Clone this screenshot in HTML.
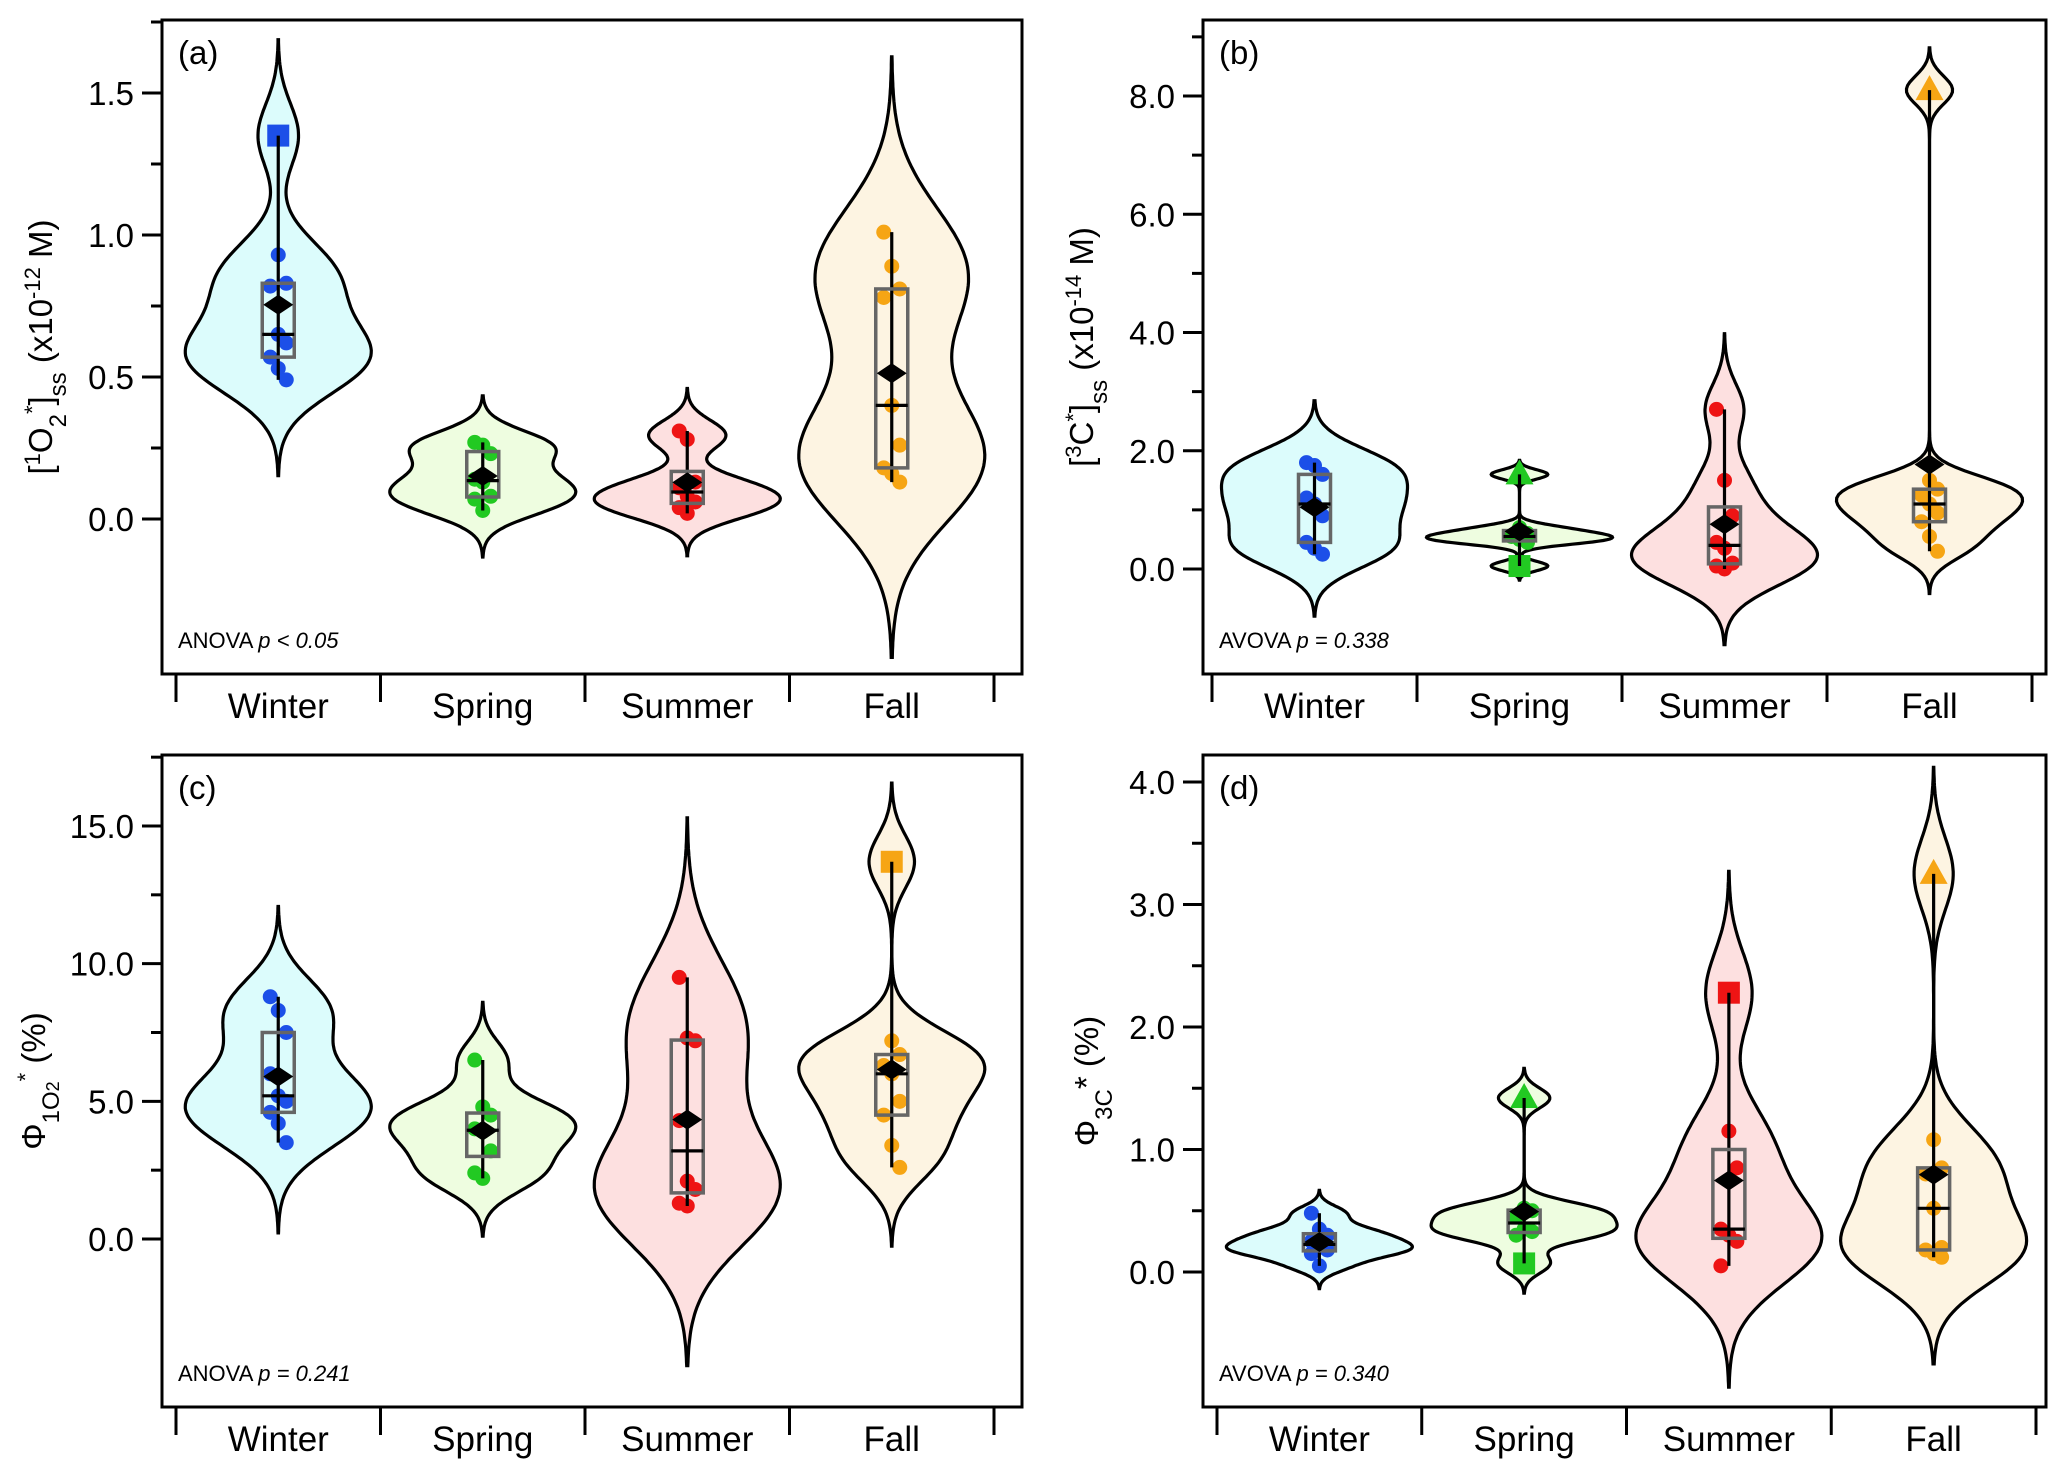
<!DOCTYPE html>
<html><head><meta charset="utf-8"><style>
html,body{margin:0;padding:0;background:#fff}
svg{display:block;font-family:"Liberation Sans",sans-serif}
</style></head><body>
<svg id="fig" width="2067" height="1479" viewBox="0 0 2067 1479" xmlns="http://www.w3.org/2000/svg"></svg>
<script>
const categories = ['Winter','Spring','Summer','Fall'];
// panel a: [1O2*]ss
const a_winter = [1.35,0.93,0.83,0.82,0.65,0.62,0.57,0.53,0.49];
const a_spring = [0.27,0.26,0.23,0.14,0.13,0.08,0.07,0.03];
const a_summer = [0.31,0.28,0.13,0.11,0.08,0.06,0.04,0.02];
const a_fall   = [1.01,0.89,0.81,0.78,0.40,0.26,0.18,0.16,0.13];
const a_maxMark = ['s','o','o','o'];
const a_minMark = ['o','o','o','o'];
const a_ticks = [0.0,0.5,1.0,1.5];
// panel b: [3C*]ss
const b_winter = [1.8,1.75,1.6,1.2,1.1,0.9,0.45,0.35,0.25];
const b_spring = [1.6,0.7,0.6,0.55,0.5,0.45,0.05];
const b_summer = [2.7,1.5,0.9,0.45,0.35,0.1,0.05,0.0];
const b_fall   = [8.1,1.5,1.35,1.25,1.1,0.95,0.8,0.55,0.3];
const b_maxMark = ['o','t','o','t'];
const b_minMark = ['o','s','o','o'];
const b_ticks = [0.0,2.0,4.0,6.0,8.0];
// panel c: Phi 1O2*
const c_winter = [8.8,8.3,7.5,6.0,5.2,5.0,4.6,4.2,3.5];
const c_spring = [6.5,4.8,4.5,4.0,3.9,3.2,2.4,2.2];
const c_summer = [9.5,7.3,7.2,4.3,2.1,1.8,1.3,1.2];
const c_fall   = [13.7,7.2,6.7,6.3,6.0,5.0,4.5,3.4,2.6];
const c_maxMark = ['o','o','o','s'];
const c_minMark = ['o','o','o','o'];
const c_ticks = [0.0,5.0,10.0,15.0];
// panel d: Phi 3C*
const d_winter = [0.48,0.35,0.3,0.25,0.2,0.18,0.15,0.05];
const d_spring = [1.42,0.52,0.5,0.45,0.35,0.33,0.3,0.07];
const d_summer = [2.28,1.15,0.85,0.35,0.3,0.25,0.05];
const d_fall   = [3.25,1.08,0.85,0.8,0.52,0.2,0.18,0.15,0.12];
const d_maxMark = ['o','t','s','t'];
const d_minMark = ['o','s','o','o'];
const d_ticks = [0.0,1.0,2.0,3.0,4.0];

const fills = ['#dcfcfc','#eefde0','#fde0e0','#fdf4e2'];
const ptCol = ['#1c4fe8','#22c922','#ee1414','#f6a514'];
const NS='http://www.w3.org/2000/svg';
const svg=document.getElementById('fig');
function mk(tag,attrs,parent){const e=document.createElementNS(NS,tag);for(const k in attrs)e.setAttribute(k,attrs[k]);(parent||svg).appendChild(e);return e;}

function quant(s,p){const pos=(s.length-1)*p;const lo=Math.floor(pos),hi=Math.ceil(pos);return s[lo]+(s[hi]-s[lo])*(pos-lo);}

function panel(cfg){
  const g=mk('g',{});
  
  
  const {L,R,T,B,y0px,ymaxpx,ymax,cx0,cx1}=cfg;
  const y=v=>y0px+(ymaxpx-y0px)*v/ymax;
  const band=(cx1-cx0)/4;
  const xc=i=>cx0+band*(i+0.5);
  const clip='clip-'+cfg.id;
  const cp=mk('clipPath',{id:clip},g);mk('rect',{x:L,y:T,width:R-L,height:B-T},cp);
  const plot=mk('g',{'clip-path':'url(#'+clip+')'},g);
  cfg.series.forEach((data,i)=>{
    const s=[...data].sort((a,b)=>a-b);const n=s.length;
    const mean=s.reduce((a,b)=>a+b,0)/n;
    const sd=Math.sqrt(s.reduce((a,b)=>a+(b-mean)**2,0)/(n-1));
    const iqr=quant(s,0.75)-quant(s,0.25);
    let sig=Math.min(sd,iqr/1.34);if(!(sig>0))sig=sd;
    const h=0.9*sig*Math.pow(n,-0.2);
    const lo=s[0]-3*h,hi=s[n-1]+3*h;
    const N=160,pts=[];let mx=0;
    for(let k=0;k<=N;k++){const v=lo+(hi-lo)*k/N;let d=0;for(const p of s)d+=Math.exp(-0.5*((v-p)/h)**2);pts.push([v,d]);if(d>mx)mx=d;}
    const hw=cfg.hw;
    let dstr='';pts.forEach((p,k)=>{dstr+=(k?'L':'M')+(xc(i)+hw*p[1]/mx).toFixed(1)+','+y(p[0]).toFixed(1);});
    for(let k=pts.length-1;k>=0;k--){const p=pts[k];dstr+='L'+(xc(i)-hw*p[1]/mx).toFixed(1)+','+y(p[0]).toFixed(1);}
    const vp=mk('path',{d:dstr+'Z',fill:fills[i],stroke:'#000','stroke-width':3.2},plot);
    
    
    data.forEach((v,j)=>{
      const x=xc(i)+((j%3)-1)*8;
      let m='o';if(v===s[n-1])m=cfg.maxMark[i];else if(v===s[0])m=cfg.minMark[i];
      let e;
      if(m==='s'){e=mk('rect',{x:xc(i)-11,y:y(v)-11,width:22,height:22,fill:ptCol[i]},plot);}
      else if(m==='t'){e=mk('polygon',{points:`${xc(i)},${y(v)-15} ${xc(i)+14},${y(v)+10} ${xc(i)-14},${y(v)+10}`,fill:ptCol[i]},plot);}
      else{e=mk('circle',{cx:x,cy:y(v),r:7.5,fill:ptCol[i]},plot);}
      
      
    });
    const wk=mk('line',{x1:xc(i),x2:xc(i),y1:y(s[0]),y2:y(s[n-1]),stroke:'#000','stroke-width':3.2},plot);
    
    
    const q1=quant(s,0.25),q3=quant(s,0.75),med=quant(s,0.5);
    const bx=mk('rect',{x:xc(i)-16,y:y(q3),width:32,height:Math.max(1,y(q1)-y(q3)),fill:'none',stroke:'#666','stroke-width':3.5},plot);
    
    
    mk('line',{x1:xc(i)-16,x2:xc(i)+16,y1:y(med),y2:y(med),stroke:'#000','stroke-width':3.2},plot);
    const dm=mk('polygon',{points:`${xc(i)-15},${y(mean)} ${xc(i)},${y(mean)-10} ${xc(i)+15},${y(mean)} ${xc(i)},${y(mean)+10}`,fill:'#000'},plot);
    
    
  });
  mk('rect',{x:L,y:T,width:R-L,height:B-T,fill:'none',stroke:'#000','stroke-width':3});
  const step=cfg.ticks[1]-cfg.ticks[0];
  for(let v=0;v<=ymax+1e-9+step/2;v+=step/2){
    const yy=y(v);if(yy<T)continue;
    const major=Math.abs(v/step-Math.round(v/step))<1e-6;
    mk('line',{x1:L-(major?20:11),x2:L,y1:yy,y2:yy,stroke:'#000','stroke-width':3},g);
  }
  cfg.ticks.forEach(v=>{
    const t=mk('text',{x:L-28,y:y(v)+12,'text-anchor':'end','font-size':33},g);
    t.textContent=v.toFixed(1);
    
    
  });
  for(let k=0;k<=4;k++){const x=cx0+band*k;mk('line',{x1:x,x2:x,y1:B,y2:B+28,stroke:'#000','stroke-width':3},g);}
  categories.forEach((c,i)=>{
    const t=mk('text',{x:xc(i),y:B+44,'text-anchor':'middle','font-size':35},g);
    t.textContent=c;
    
    
  });
  const pl=mk('text',{x:L+16,y:T+44,'font-size':33},g);pl.textContent='('+cfg.id+')';
  
  
  const an=mk('text',{x:L+16,y:B-26,'font-size':22},g);
  an.innerHTML=cfg.stat;
  
  
  const yt=mk('text',{transform:`translate(${cfg.titleX},${(T+B)/2}) rotate(-90)`,'text-anchor':'middle','font-size':33},g);
  yt.innerHTML=cfg.title;
  
  
}

panel({id:'a',L:162,R:1022,T:20,B:674,y0px:519,ymaxpx:93,ymax:1.5,cx0:176,cx1:994,hw:93,
  series:[a_winter,a_spring,a_summer,a_fall],maxMark:a_maxMark,minMark:a_minMark,ticks:a_ticks,
  stat:'ANOVA <tspan font-style="italic">p &lt; 0.05</tspan>',titleX:52,
  title:'[<tspan baseline-shift="super" font-size="22">1</tspan>O<tspan baseline-shift="sub" font-size="24">2</tspan><tspan baseline-shift="super" font-size="22">*</tspan>]<tspan baseline-shift="sub" font-size="24">ss</tspan> (x10<tspan baseline-shift="super" font-size="22">-12</tspan> M)'});
panel({id:'b',L:1203,R:2046,T:20,B:674,y0px:569,ymaxpx:96,ymax:8,cx0:1212,cx1:2032,hw:93,
  series:[b_winter,b_spring,b_summer,b_fall],maxMark:b_maxMark,minMark:b_minMark,ticks:b_ticks,
  stat:'AVOVA <tspan font-style="italic">p = 0.338</tspan>',titleX:1093,
  title:'[<tspan baseline-shift="super" font-size="22">3</tspan>C<tspan baseline-shift="super" font-size="22">*</tspan>]<tspan baseline-shift="sub" font-size="24">ss</tspan> (x10<tspan baseline-shift="super" font-size="22">-14</tspan> M)'});
panel({id:'c',L:162,R:1022,T:755,B:1407,y0px:1239,ymaxpx:826,ymax:15,cx0:176,cx1:994,hw:93,
  series:[c_winter,c_spring,c_summer,c_fall],maxMark:c_maxMark,minMark:c_minMark,ticks:c_ticks,
  stat:'ANOVA <tspan font-style="italic">p = 0.241</tspan>',titleX:45,
  title:'Φ<tspan baseline-shift="sub" font-size="24">1O<tspan font-size="18">2</tspan></tspan><tspan baseline-shift="super" font-size="22">*</tspan> (%)'});
panel({id:'d',L:1203,R:2046,T:755,B:1407,y0px:1272,ymaxpx:782,ymax:4,cx0:1217,cx1:2036,hw:93,
  series:[d_winter,d_spring,d_summer,d_fall],maxMark:d_maxMark,minMark:d_minMark,ticks:d_ticks,
  stat:'AVOVA <tspan font-style="italic">p = 0.340</tspan>',titleX:1098,
  title:'Φ<tspan baseline-shift="sub" font-size="24">3C</tspan>* (%)'});
</script>
</body></html>
